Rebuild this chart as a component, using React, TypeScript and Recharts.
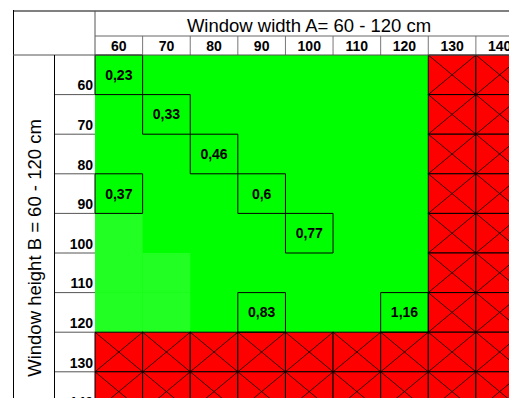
import React from 'react';
import { ScatterChart, Scatter, XAxis, YAxis, ReferenceArea } from 'recharts';

// Window width A (columns) and height B (rows), cm
const widths = [60, 70, 80, 90, 100, 110, 120, 130, 140];
const heights = [60, 70, 80, 90, 100, 110, 120, 130, 140];
const maxWidth = 120;
const maxHeight = 120;

// cells with a value printed in them
const valueWidths = [60, 70, 80, 60, 90, 100, 90, 120];
const valueHeights = [60, 70, 80, 90, 90, 100, 120, 120];
const values = [0.23, 0.33, 0.46, 0.37, 0.6, 0.77, 0.83, 1.16];

// slightly lighter green cells
const lightWidths = [60, 60, 70, 60, 70];
const lightHeights = [100, 110, 110, 120, 120];

const FONT = '"Liberation Sans", Arial, sans-serif';
const CHART_W = 530;
const CHART_H = 420;
const margin = { top: 36, right: 6.5, bottom: 8.6, left: 54 };
const Y_AXIS_W = 41;
const X_AXIS_H = 19;
const plotW = CHART_W - margin.left - Y_AXIS_W - margin.right;
const plotH = CHART_H - margin.top - X_AXIS_H - margin.bottom;
const colW = plotW / widths.length;
const rowH = plotH / heights.length;
const half = 5;
const domain: [number, number] = [widths[0] - half, widths[widths.length - 1] + half];

const fmt = (v: number) => String(v).replace('.', ',');

const redCells: { w: number; h: number }[] = [];
widths.forEach(w => heights.forEach(h => {
  if (w > maxWidth || h > maxHeight) redCells.push({ w, h });
}));

const valueData = values.map((v, i) => ({ x: valueWidths[i], y: valueHeights[i], label: fmt(v) }));

const XTick = (props: any) => {
  const { x, y, payload } = props;
  return (
    <g>
      <line x1={x + colW / 2} x2={x + colW / 2} y1={y - X_AXIS_H} y2={y} stroke="#777" strokeWidth={1} />
      <text x={x} y={y - 4.5} textAnchor="middle" fontFamily={FONT} fontSize={14} fontWeight="bold" fill="#000">
        {payload.value}
      </text>
    </g>
  );
};

const YTick = (props: any) => {
  const { x, y, payload } = props;
  return (
    <g>
      <line x1={x - Y_AXIS_W} x2={x} y1={y + rowH / 2} y2={y + rowH / 2} stroke="#555" strokeWidth={1} />
      <text x={x - 2} y={y + 15.5} textAnchor="end" fontFamily={FONT} fontSize={14} fontWeight="bold" fill="#000">
        {payload.value}
      </text>
    </g>
  );
};

const RedCell = (props: any) => {
  const { x, y, width, height } = props;
  return (
    <g>
      <rect x={x} y={y} width={width} height={height} fill="#ff0000" stroke="#000" strokeWidth={1} />
      <line x1={x} y1={y} x2={x + width} y2={y + height} stroke="#000" strokeWidth={0.8} />
      <line x1={x + width} y1={y} x2={x} y2={y + height} stroke="#000" strokeWidth={0.8} />
    </g>
  );
};

const ValueLabel = (props: any) => {
  const { cx, cy, payload } = props;
  return (
    <text x={cx} y={cy + 5} textAnchor="middle" fontFamily={FONT} fontSize={14} fontWeight="bold" fill="#000">
      {payload.label}
    </text>
  );
};

const App: React.FC = () => {
  return (
    <div style={{ position: 'relative', width: 517, height: 406, overflow: 'hidden', margin: -8, background: '#fff' }}>
      <ScatterChart width={CHART_W} height={CHART_H} margin={margin}>
        <XAxis
          type="number"
          dataKey="x"
          orientation="top"
          domain={domain}
          ticks={widths}
          height={X_AXIS_H}
          axisLine={false}
          tickLine={false}
          tickSize={0}
          tickMargin={0}
          tick={<XTick />}
          interval={0}
        />
        <YAxis
          type="number"
          dataKey="y"
          domain={domain}
          reversed
          ticks={heights}
          width={Y_AXIS_W}
          axisLine={false}
          tickLine={false}
          tickSize={0}
          tickMargin={0}
          tick={<YTick />}
          interval={0}
        />
        <ReferenceArea
          x1={widths[0] - half} x2={maxWidth + half}
          y1={heights[0] - half} y2={maxHeight + half}
          fill="#00ff00" fillOpacity={1} stroke="none"
        />
        {lightWidths.map((w, i) => (
          <ReferenceArea
            key={`l${i}`}
            x1={w - half} x2={w + half}
            y1={lightHeights[i] - half} y2={lightHeights[i] + half}
            fill="#22ff22" fillOpacity={1} stroke="none"
          />
        ))}
        {redCells.map((c, i) => (
          <ReferenceArea
            key={`r${i}`}
            x1={c.w - half} x2={c.w + half}
            y1={c.h - half} y2={c.h + half}
            shape={<RedCell />}
          />
        ))}
        {valueWidths.map((w, i) => (
          <ReferenceArea
            key={`v${i}`}
            x1={w - half} x2={w + half}
            y1={valueHeights[i] - half} y2={valueHeights[i] + half}
            fill="none" stroke="#000" strokeWidth={1}
          />
        ))}
        <Scatter data={valueData} shape={<ValueLabel />} isAnimationActive={false} />
      </ScatterChart>
      <svg width={517} height={406} style={{ position: 'absolute', left: 0, top: 0, pointerEvents: 'none' }}>
        <line x1={13} x2={517} y1={11} y2={11} stroke="#808080" strokeWidth={2} />
        <line x1={13.5} x2={13.5} y1={10} y2={406} stroke="#000" strokeWidth={1} />
        <line x1={95} x2={95} y1={11} y2={55} stroke="#555" strokeWidth={1} />
        <line x1={95} x2={517} y1={36} y2={36} stroke="#666" strokeWidth={1} />
        <line x1={13} x2={517} y1={55} y2={55} stroke="#555" strokeWidth={1} />
        <line x1={54.5} x2={54.5} y1={55} y2={406} stroke="#000" strokeWidth={1} />
        <text x={309} y={31.5} textAnchor="middle" fontFamily={FONT} fontSize={18.5} fill="#000">
          Window width A= 60 - 120 cm
        </text>
        <text
          transform="translate(35,248) rotate(-90)"
          x={0} y={6}
          textAnchor="middle" fontFamily={FONT} fontSize={18.5} fill="#000"
        >
          Window height B = 60 - 120 cm
        </text>
      </svg>
    </div>
  );
};

export default App;
